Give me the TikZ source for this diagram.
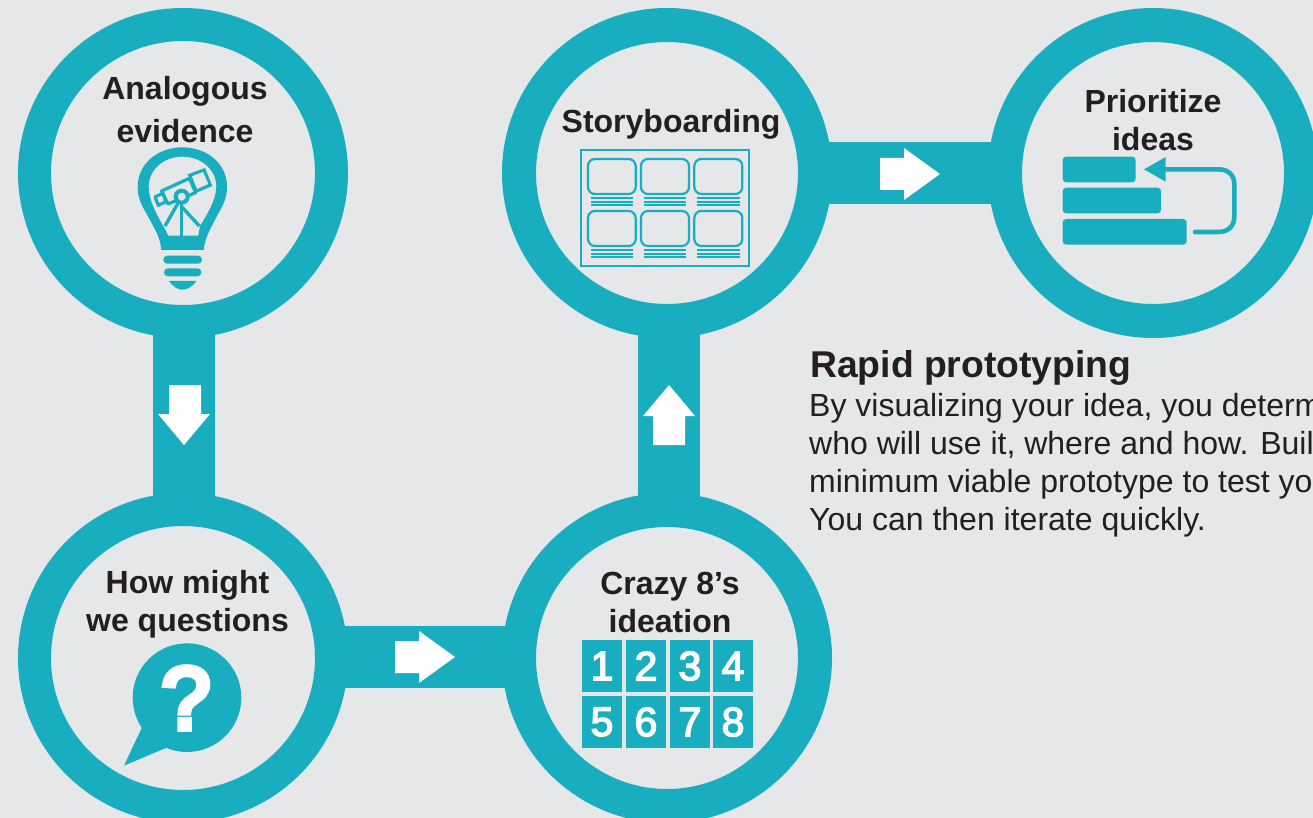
\documentclass[tikz,border=0pt]{standalone}
\usepackage{fontspec}
\setmainfont{Liberation Sans}
\newfontfamily\digitfont[FakeBold=3.5]{Liberation Sans}
\newfontfamily\qfont[FakeBold=7]{Liberation Sans}
\usetikzlibrary{backgrounds}
\definecolor{tealc}{HTML}{19AEBF}
\definecolor{bgc}{HTML}{E6E7E8}
\definecolor{inkc}{HTML}{231F20}
\tikzset{
 ring/.style={circle,draw=tealc,fill=bgc,line width=34pt,minimum size=296pt,inner sep=0pt,outer sep=0pt},
 widering/.style={ring,line width=33pt,minimum size=297pt},
 link/.style={draw=tealc,line width=62pt},
 blockarrow/.style={fill=white,draw=none},
 heading/.style={text=inkc,font=\bfseries\fontsize{32}{38}\selectfont,align=center,inner sep=0pt},
 numcell/.style={fill=tealc,text=white,minimum width=40pt,minimum height=52pt,inner sep=0pt,font=\digitfont\fontsize{41}{41}\selectfont},
 zoomed/.style={x=0.33333pt,y=-0.33333pt},
}
\begin{document}
\begin{tikzpicture}[x=1pt,y=-1pt]
\useasboundingbox (0,0) rectangle (1313,818);
\begin{pgfonlayer}{background}
\fill[bgc] (0,0) rectangle (1313,818);
\end{pgfonlayer}
\begin{scope}
\clip (0,0) rectangle (1313,818);
\node[widering] (c1) at (183,173) {};
\node[widering] (c2) at (183,658) {};
\node[ring] (c3) at (667,658) {};
\node[ring] (c4) at (667,173) {};
\node[ring] (c5) at (1153,173) {};
\begin{pgfonlayer}{background}
\draw[link] ([xshift=1pt]c1.center) -- ([xshift=1pt]c2.center);
\draw[link] ([yshift=1pt]c2.center) -- ([yshift=1pt]c3.center);
\draw[link] ([xshift=2pt]c3.center) -- ([xshift=2pt]c4.center);
\draw[link] (c4.center) -- (c5.center);
\end{pgfonlayer}
% block arrows
\fill[blockarrow] (169,385) -- (201,385) -- (201,414) -- (210,414) -- (184,445) -- (158,414) -- (169,414) -- cycle;
\fill[blockarrow] (395,641) -- (419,641) -- (419,631) -- (455,657) -- (419,683) -- (419,673) -- (395,673) -- cycle;
\fill[blockarrow] (653,445) -- (685,445) -- (685,416) -- (695,416) -- (669,385) -- (643,416) -- (653,416) -- cycle;
\fill[blockarrow] (880,158) -- (904,158) -- (904,148) -- (940,174) -- (904,200) -- (904,190) -- (880,190) -- cycle;
% headings
\node[heading,font=\bfseries\fontsize{32}{43}\selectfont] (t1) at (185,110) {Analogous\\evidence};
\node[heading] (t2) at (187.5,604) {How might\\we questions};
\node[heading,anchor=base] (t3) at (671,133) {Storyboarding};
\node[heading] (t4) at (670,602) {Crazy 8’s\\ideation};
\node[heading] (t5) at (1153,120) {Prioritize\\ideas};
\node[anchor=base west,inner sep=0pt,text=inkc,font=\bfseries\fontsize{37.3}{37.3}\selectfont] (t6) at (810,377) {Rapid prototyping};
\node[anchor=north west,inner sep=0pt,text=inkc,align=left,font=\fontsize{32}{38}\selectfont] (t7) at (809,393) {By visualizing your idea, you determ\\who will use it, where and how. Build\\minimum viable prototype to test yo\\You can then iterate quickly.};
% bulb
\begin{scope}[zoomed,shift={(300,420)}]
\fill[tealc,even odd rule] (183,330) -- (183,322) .. controls (178,285) and (160,260) .. (140,222) .. controls (122,192) and (113,170) .. (113,140) .. controls (113,70) and (175,22) .. (247,22) .. controls (320,22) and (381,70) .. (381,140) .. controls (381,170) and (372,192) .. (354,222) .. controls (335,260) and (318,285) .. (312,322) -- (312,330) -- cycle
 (205,287) -- (295,287) -- (300,258) .. controls (320,225) and (349,180) .. (349,140) .. controls (349,90) and (305,50) .. (247,50) .. controls (190,50) and (146,90) .. (146,140) .. controls (146,180) and (170,225) .. (190,258) -- cycle;
\fill[tealc,rounded corners=3.8pt] (190,347) rectangle (306,371);
\fill[tealc,rounded corners=3.8pt] (192,385) rectangle (304,409);
\fill[tealc] (207,423) -- (289,423) .. controls (275,442) and (260,449) .. (248,449) .. controls (235,449) and (220,442) .. (207,423) -- cycle;
\begin{scope}[line width=3.2pt,line join=round]
\draw[tealc] (165,171) -- (188,160) -- (198,185) -- (175,196) -- cycle;
\draw[tealc] (185,153) -- (268,115) -- (287,158) -- (204,192) -- cycle;
\fill[tealc] (263,103) -- (315,84) -- (337,138) -- (285,160) -- cycle;
\fill[bgc] (276,109) -- (309,96) -- (325,132) -- (291,147) -- cycle;
\draw[tealc,line width=3.4pt] (245,170) -- (195,258);
\draw[tealc,line width=3.4pt] (245,190) -- (245,287);
\draw[tealc,line width=3.4pt] (245,200) -- (298,258);
\draw[tealc,fill=bgc,line width=4pt] (245,170) circle[radius=18];
\end{scope}
\end{scope}
% storyboard
\begin{scope}[zoomed,shift={(1710,420)}]
\draw[tealc,line width=2.2pt] (33,31) rectangle (538,378);
\foreach \xa/\xb in {54/197,213/357,373/517}{
 \foreach \ya/\yb in {57/162,213/318}{
  \draw[tealc,line width=2.2pt,rounded corners=7pt] (\xa,\ya) rectangle (\xb,\yb);
  \foreach \d in {13,23,33}{
   \draw[tealc,line width=2.3pt] (\xa+9,\yb+\d) -- (\xb-8,\yb+\d);
  }
 }
}
\end{scope}
% priority
\begin{scope}[zoomed,shift={(3150,435)}]
\fill[tealc,rounded corners=3.5pt] (38,35) rectangle (257,112);
\fill[tealc,rounded corners=3.5pt] (38,128) rectangle (333,205);
\fill[tealc,rounded corners=3.5pt] (38,222) rectangle (410,299);
\draw[tealc,line width=4.6pt,line cap=round] (435,261) -- (505,261) .. controls (535,261) and (553,243) .. (553,215) -- (553,118) .. controls (553,90) and (535,73) .. (505,73) -- (345,73);
\fill[tealc] (282,73) -- (347,36) -- (347,110) -- cycle;
\end{scope}
% number grid
\node[numcell] (n1) at (602,666) {1};
\node[numcell] (n2) at (646,666) {2};
\node[numcell] (n3) at (690,666) {3};
\node[numcell] (n4) at (733,666) {4};
\node[numcell] (n5) at (602,722) {5};
\node[numcell] (n6) at (646,722) {6};
\node[numcell] (n7) at (690,722) {7};
\node[numcell] (n8) at (733,722) {8};
% speech bubble
\begin{scope}[zoomed,shift={(330,1890)}]
\fill[tealc] (231,203) circle[radius=163];
\fill[tealc] (42,407) -- (97,290) -- (170,353) -- cycle;
\end{scope}
\node[text=white,inner sep=0pt,font=\qfont\fontsize{88}{88}\selectfont] (q) at (186,698) {?};
\end{scope}
\end{tikzpicture}
\end{document}
